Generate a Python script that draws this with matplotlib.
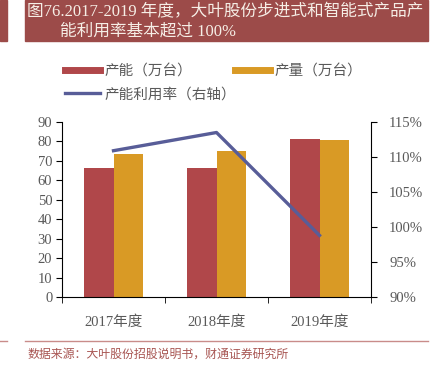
import matplotlib
matplotlib.use("Agg")
import matplotlib.pyplot as plt
import numpy as np
from matplotlib.patches import Rectangle
from matplotlib.lines import Line2D

# --- Data ---
years = ["2017年度", "2018年度", "2019年度"]
capacity = [66.3, 66.2, 81.2]      # 产能（万台）
output = [73.5, 75.1, 80.6]        # 产量（万台）
utilization = [110.9, 113.5, 98.8]  # 产能利用率（%）

RED = "#B0474A"
YELLOW = "#D99A25"
BLUE = "#585D98"
TITLE_BG = "#9C4B49"
GREY = "#595959"
FONT = ["Liberation Serif", "Noto Sans CJK SC"]

plt.rcParams["font.family"] = FONT

fig = plt.figure(figsize=(4.3, 3.75), dpi=100)

# --- Title bar ---
fig.patches.append(Rectangle((25 / 430, 1 - 41 / 375), 403 / 430, 41 / 375,
                             transform=fig.transFigure, color=TITLE_BG, zorder=0))
fig.patches.append(Rectangle((0, 1 - 41 / 375), 7 / 430, 41 / 375,
                             transform=fig.transFigure, color=TITLE_BG, zorder=0))
fig.text(27 / 430, 1 - 12 / 375, "图76.2017-2019 年度，大叶股份步进式和智能式产品产",
         color="#F6EEE6", fontsize=12, va="center", ha="left")
fig.text(60 / 430, 1 - 32 / 375, "能利用率基本超过 100%",
         color="#F6EEE6", fontsize=12, va="center", ha="left")

# --- Chart ---
ax = fig.add_axes([62 / 430, 78 / 375, 309 / 430, 175 / 375])
x = np.arange(len(years))
w = 0.29
ax.bar(x - w / 2, capacity, w, color=RED, zorder=2)
ax.bar(x + w / 2, output, w, color=YELLOW, zorder=2)
ax.set_xlim(-0.5, len(years) - 0.5)
ax.set_ylim(0, 90)
ax.set_yticks(range(0, 91, 10))
ax.set_xticks(x)
ax.set_xticklabels(years)
ax.set_xticks(np.arange(-0.5, len(years), 1), minor=True)
ax.tick_params(axis="x", which="major", length=0, pad=13, labelsize=10.5, labelcolor=GREY)
ax.tick_params(axis="x", which="minor", length=4, direction="out")
ax.tick_params(axis="y", length=4, direction="out", labelsize=10.5, labelcolor=GREY, pad=3)
ax.spines["top"].set_visible(False)
ax.spines["right"].set_visible(False)

ax2 = ax.twinx()
ax2.plot(x, utilization, color=BLUE, lw=2.4, zorder=3)
ax2.set_ylim(90, 115)
ax2.set_yticks(range(90, 116, 5))
ax2.set_yticklabels([f"{v}%" for v in range(90, 116, 5)])
ax2.tick_params(axis="y", length=4, direction="out", labelsize=10.5, labelcolor=GREY, pad=9)
ax2.spines["top"].set_visible(False)
ax2.spines["left"].set_visible(False)
ax2.spines["bottom"].set_visible(False)

# --- Legend ---
handles = [
    Line2D([], [], color=RED, lw=5),
    Line2D([], [], color=BLUE, lw=2.4),
    Line2D([], [], color=YELLOW, lw=5),
]
labels = ["产能（万台）", "产能利用率（右轴）", "产量（万台）"]
fig.legend(handles, labels, ncol=2, loc="upper left",
           bbox_to_anchor=(52 / 430, 1 - 51 / 375), frameon=False,
           handlelength=2.4, handletextpad=0.3, columnspacing=-0.1,
           labelspacing=0.65, prop={"family": FONT, "size": 10.5},
           labelcolor=GREY)

# --- Footer ---
fig.add_artist(Line2D([25 / 430, 428 / 430], [1 - 341 / 375] * 2,
                      transform=fig.transFigure, color="#C98C8A", lw=1))
fig.add_artist(Line2D([0, 7 / 430], [1 - 341 / 375] * 2,
                      transform=fig.transFigure, color="#C98C8A", lw=1))
fig.text(27 / 430, 1 - 355 / 375, "数据来源：大叶股份招股说明书，财通证券研究所",
         color="#A85552", fontsize=8.6, va="center", ha="left")

fig.savefig("out.png", dpi=100)
